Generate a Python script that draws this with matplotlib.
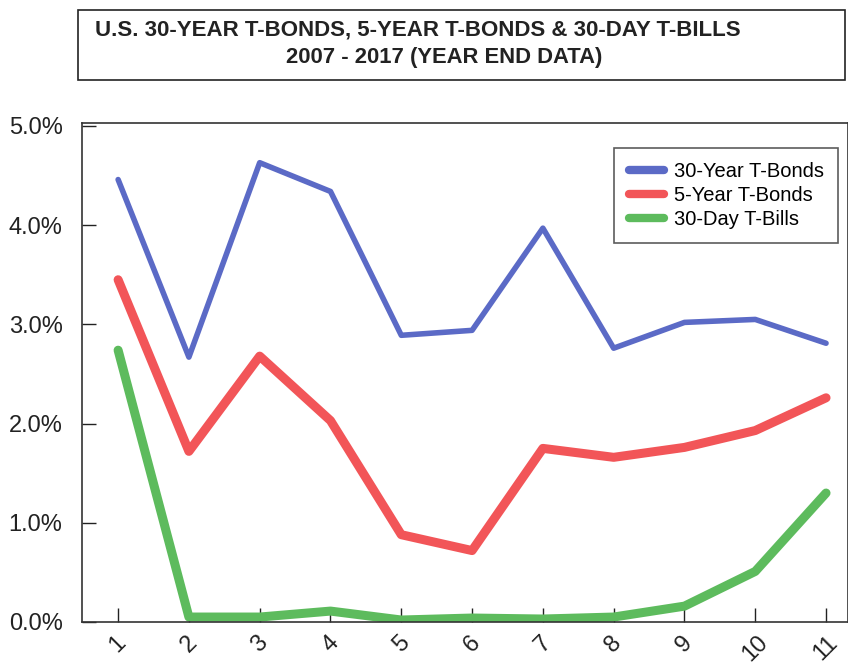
import matplotlib
matplotlib.use("Agg")
from matplotlib import pyplot as plt
from matplotlib.patches import Rectangle
from matplotlib.ticker import FuncFormatter

# values (percent, year end 2007-2017)
years = list(range(1, 12))
tick_labels = [str(i) for i in years]
bonds_30y = [4.46, 2.67, 4.63, 4.34, 2.89, 2.94, 3.97, 2.76, 3.02, 3.05, 2.81]
bonds_5y = [3.45, 1.72, 2.68, 2.03, 0.88, 0.72, 1.75, 1.66, 1.76, 1.93, 2.26]
bills_30d = [2.74, 0.05, 0.05, 0.11, 0.02, 0.04, 0.03, 0.05, 0.16, 0.51, 1.30]
series_names = ["30-Year T-Bonds", "5-Year T-Bonds", "30-Day T-Bills"]

plt.rcParams['font.family'] = ['Liberation Sans', 'DejaVu Sans']

fig = plt.figure(figsize=(8.48, 6.69), dpi=100)

# title box
fig.patches.append(Rectangle((78 / 848, 1 - 80 / 669), (845 - 78) / 848, 70 / 669,
                             transform=fig.transFigure, fill=False,
                             edgecolor='#222222', linewidth=1.2))
fig.text(418 / 848, 1 - 30 / 669,
         "U.S. 30-YEAR T-BONDS, 5-YEAR T-BONDS & 30-DAY T-BILLS",
         ha='center', va='center', fontsize=16, fontweight='bold',
         color='#222222')
fig.text(444 / 848, 1 - 58 / 669, "2007 - 2017 (YEAR END DATA)",
         ha='center', va='center', fontsize=15.8, fontweight='bold',
         color='#222222')

ax = fig.add_axes([82 / 848, 1 - 622 / 669, 1 - 82 / 848, (622 - 123) / 669])
ax.plot(years, bonds_30y, color='#5b6ac6', lw=4, solid_capstyle='round',
        label=series_names[0])
ax.plot(years, bonds_5y, color='#f25558', lw=6.5, solid_capstyle='round',
        label=series_names[1])
ax.plot(years, bills_30d, color='#5dbb5d', lw=6.5, solid_capstyle='round',
        label=series_names[2])

ax.set_xlim(0.49, 11.31)
ax.set_ylim(0, 5.03)
ax.set_yticks([0, 1, 2, 3, 4, 5])
ax.yaxis.set_major_formatter(FuncFormatter(lambda v, p: '{:.1f}%'.format(v)))
ax.set_xticks(years)
ax.set_xticklabels(tick_labels, rotation=45, ha='center', va='top')
ax.tick_params(axis='y', direction='in', length=10, width=1, pad=14,
               labelsize=17, colors='#222222')
ax.tick_params(axis='x', direction='in', length=10, width=1, pad=7,
               labelsize=17, colors='#222222')
for side in ['left', 'top', 'bottom', 'right']:
    ax.spines[side].set_color('#333333')
    ax.spines[side].set_linewidth(1.2)

leg = ax.legend(loc='upper right', frameon=True, fancybox=False,
                fontsize=14.5, handlelength=1.75, handletextpad=0.5,
                borderpad=0.7, labelspacing=0.25, borderaxespad=0,
                bbox_to_anchor=((838 - 82) / (848 - 82),
                                (622 - 148) / (622 - 123)))
leg.get_frame().set_edgecolor('#333333')
leg.get_frame().set_linewidth(1.2)
for line in leg.get_lines():
    line.set_linewidth(6)

fig.savefig('out.png', dpi=100)
